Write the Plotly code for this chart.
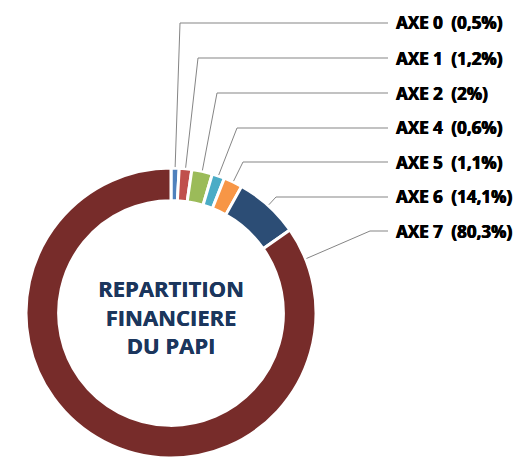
import math
import plotly.graph_objects as go

# ---- data ----
axes = ["AXE 0", "AXE 1", "AXE 2", "AXE 4", "AXE 5", "AXE 6", "AXE 7"]
pct_labels = ["0,5%", "1,2%", "2%", "0,6%", "1,1%", "14,1%", "80,3%"]
slice_values = [0.9, 1.4, 2.3, 1.4, 2.1, 7.2, 84.7]   # visual share of the ring
colors = ["#4F81BD", "#C0504D", "#9BBB59", "#4BACC6", "#F79646", "#2C4D75", "#772C2A"]
center_title = ["REPARTITION", "FINANCIERE", "DU PAPI"]

# ---- layout constants (window pixels; page body has an 8px margin) ----
OFF = 8
W, H = 527 - OFF, 458 - OFF
CX, CY, R = 171, 313, 145
label_x = 394
line_end_x = 388
label_y = [23, 58, 93, 128, 162, 197, 231]
elbow_x = [180, 198, 217, 237, 243, 276, 370]
title_center_y = 316


def px(x):
    return (x - OFF) / W


def py(y):
    return 1 - (y - OFF) / H


fig = go.Figure()
fig.add_trace(go.Pie(
    labels=axes,
    values=slice_values,
    sort=False,
    direction="clockwise",
    rotation=0,
    hole=0.775,
    textinfo="none",
    hoverinfo="label+percent",
    marker=dict(colors=colors, line=dict(color="white", width=3)),
    domain=dict(x=[px(CX - R), px(CX + R)], y=[0, py(CY - R)]),
    showlegend=False,
))

total = sum(slice_values)
cum = 0.0
shapes = []
annotations = []
for i, v in enumerate(slice_values):
    start = cum / total * 360
    end = (cum + v) / total * 360
    cum += v
    ang = min((start + end) / 2, start + 13)
    a = math.radians(ang)
    ax_ = CX + (R + 1) * math.sin(a)
    ay_ = CY - (R + 1) * math.cos(a)
    path = "M {} {} L {} {} L {} {}".format(
        px(ax_), py(ay_), px(elbow_x[i]), py(label_y[i]), px(line_end_x), py(label_y[i]))
    shapes.append(dict(type="path", path=path, xref="paper", yref="paper",
                       line=dict(color="#858585", width=1)))
    annotations.append(dict(
        x=px(label_x), y=py(label_y[i]), xref="paper", yref="paper",
        xanchor="left", yanchor="middle", showarrow=False,
        text="{}\u2002({})".format(axes[i], pct_labels[i]),
        font=dict(family="Open Sans", size=17, color="#000000", weight=700,
                  shadow="0.6px 0 0 #000, -0.3px 0 0 #000"),
    ))

annotations.append(dict(
    x=px(CX), y=py(title_center_y), xref="paper", yref="paper",
    xanchor="center", yanchor="middle", showarrow=False,
    text="<br>".join(center_title),
    align="center",
    font=dict(family="Open Sans", size=22, color="#1B365D", weight=700,
              shadow="0.4px 0 0 #1B365D"),
))

fig.update_layout(
    width=W, height=H,
    margin=dict(l=0, r=0, t=0, b=0),
    paper_bgcolor="white",
    plot_bgcolor="white",
    shapes=shapes,
    annotations=annotations,
)

fig.write_html("out.html")
